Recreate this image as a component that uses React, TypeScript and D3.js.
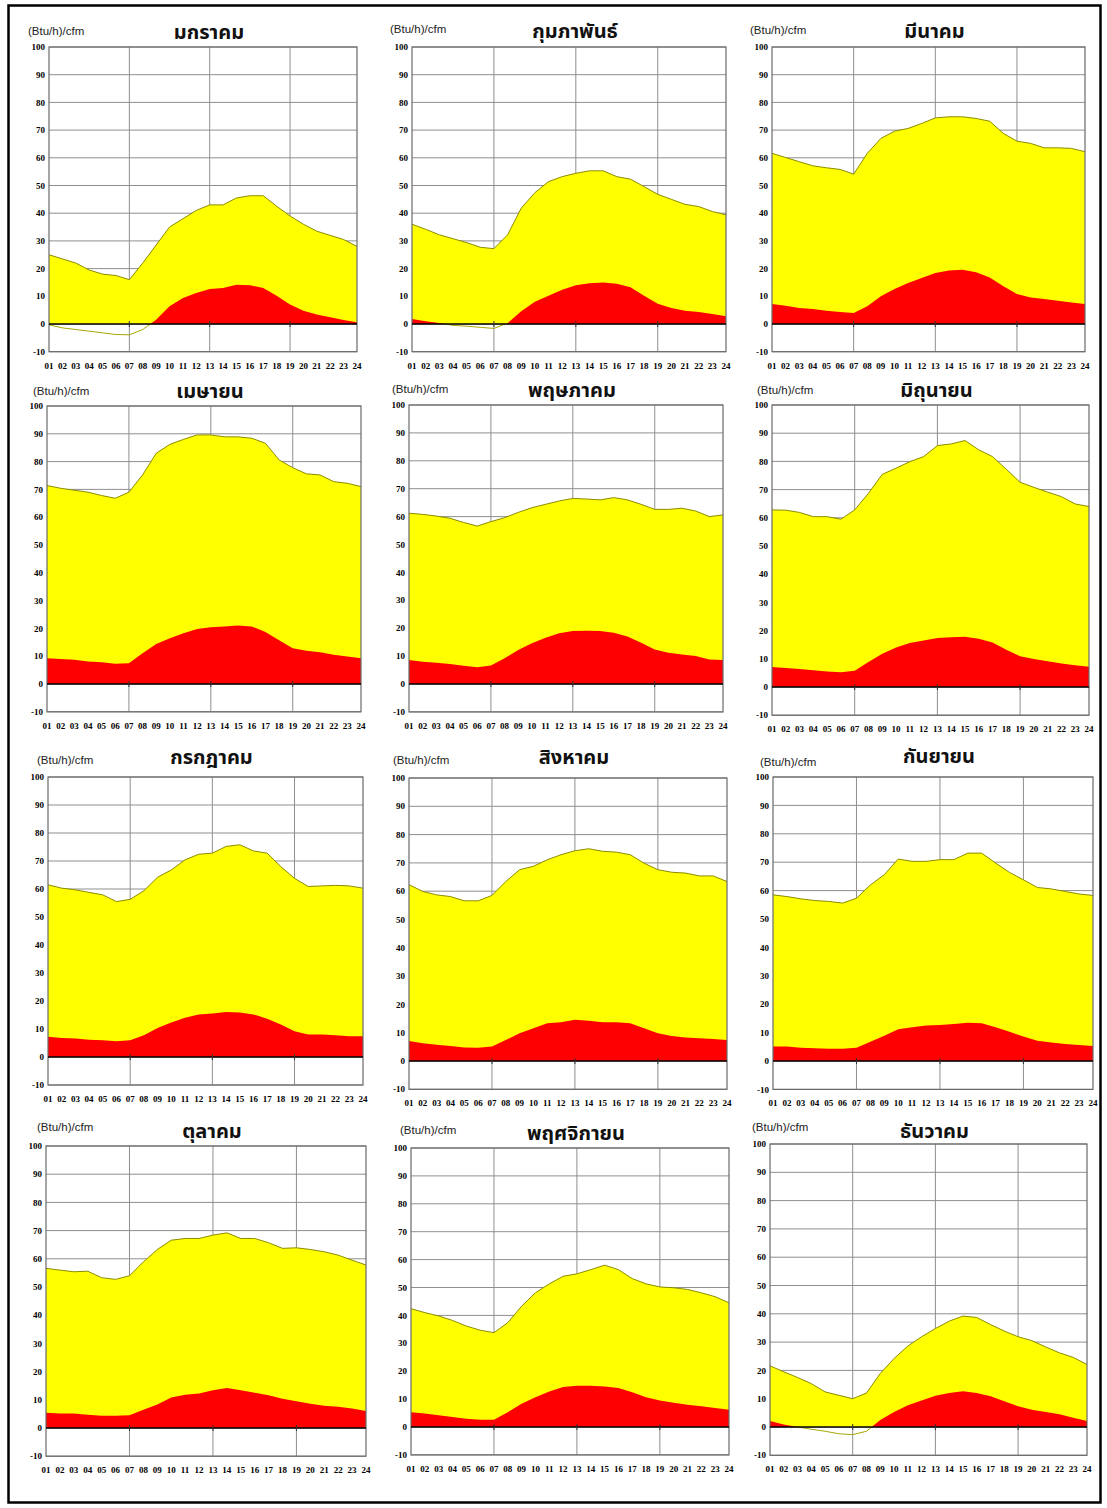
import React from 'react';
import * as d3 from 'd3';

const HOURS = ['01','02','03','04','05','06','07','08','09','10','11','12','13','14','15','16','17','18','19','20','21','22','23','24'];
const Y_TICKS = [-10, 0, 10, 20, 30, 40, 50, 60, 70, 80, 90, 100];
const V_GRID = ['07', '13', '19'];
const UNIT = '(Btu/h)/cfm';
const MONTH_NAMES = ['มกราคม','กุมภาพันธ์','มีนาคม','เมษายน','พฤษภาคม','มิถุนายน','กรกฎาคม','สิงหาคม','กันยายน','ตุลาคม','พฤศจิกายน','ธันวาคม'];

// total load (yellow upper edge) and sensible part (red) per month
const JAN_TOTAL = [25, 23.5, 22, 19.5, 18, 17.5, 16, 22, 28.5, 35, 38, 41, 43, 43, 45.5, 46.3, 46.3, 42.5, 39, 36, 33.5, 32, 30.5, 28];
const JAN_SENS = [-0.3, -1.4, -2, -2.6, -3.2, -3.8, -3.9, -2, 1.5, 6.4, 9.4, 11.2, 12.6, 13, 14.2, 14, 13, 10.2, 7, 4.8, 3.4, 2.4, 1.4, 0.6];
const FEB_TOTAL = [36, 34.2, 32.2, 30.8, 29.4, 27.7, 27.2, 32.2, 41.8, 47.4, 51.4, 53.2, 54.4, 55.3, 55.3, 53.2, 52.3, 49.6, 46.8, 45, 43.2, 42.4, 40.6, 39.4];
const FEB_SENS = [1.8, 1, 0.4, -0.5, -0.8, -1.2, -1.6, 0.3, 4.6, 8, 10.2, 12.4, 14, 14.7, 15, 14.5, 13.3, 10.2, 7.3, 5.8, 4.8, 4.3, 3.6, 2.8];
const MAR_TOTAL = [61.6, 60.1, 58.6, 57.1, 56.4, 55.8, 54.1, 61.6, 67, 69.6, 70.6, 72.4, 74.4, 74.8, 74.8, 74.2, 73.2, 68.8, 66, 65.2, 63.6, 63.6, 63.4, 62.2];
const MAR_SENS = [7.2, 6.6, 5.8, 5.4, 4.8, 4.3, 4, 6.4, 10, 12.6, 14.8, 16.6, 18.4, 19.3, 19.6, 18.7, 16.8, 13.6, 10.8, 9.6, 9, 8.4, 7.8, 7.2];
const APR_TOTAL = [71.4, 70.4, 69.7, 69, 67.8, 66.8, 69, 75.2, 83, 86.2, 88, 89.6, 89.6, 88.9, 88.9, 88.4, 86.6, 80.6, 77.8, 75.6, 75.2, 72.8, 72.2, 71];
const APR_SENS = [9.3, 9, 8.7, 8.1, 7.8, 7.3, 7.5, 11.1, 14.4, 16.5, 18.3, 19.8, 20.4, 20.7, 21, 20.7, 18.7, 15.7, 12.9, 12, 11.4, 10.5, 9.9, 9.3];
const MAY_TOTAL = [61.2, 60.8, 60.2, 59.4, 57.9, 56.6, 58.2, 59.6, 61.5, 63.2, 64.4, 65.6, 66.5, 66.3, 66, 66.8, 66, 64.4, 62.6, 62.6, 63, 62, 60, 60.6];
const MAY_SENS = [8.6, 8, 7.6, 7.2, 6.5, 6, 6.6, 9.2, 12.2, 14.6, 16.6, 18.2, 19, 19.1, 19, 18.4, 17, 14.8, 12.4, 11.2, 10.6, 10, 8.8, 8.6];
const JUN_TOTAL = [62.8, 62.7, 61.9, 60.4, 60.4, 59.5, 62.8, 68.7, 75.4, 77.6, 79.9, 81.7, 85.6, 86.2, 87.4, 84.1, 81.7, 77.2, 72.6, 70.8, 69.1, 67.5, 64.9, 64];
const JUN_SENS = [7.1, 6.7, 6.4, 5.9, 5.5, 5.2, 5.8, 8.9, 11.8, 14, 15.6, 16.5, 17.4, 17.6, 17.8, 17.1, 15.8, 13.2, 10.9, 9.9, 9.1, 8.3, 7.7, 7.2];
const JUL_TOTAL = [61.5, 60.3, 59.7, 58.8, 57.9, 55.5, 56.3, 59.4, 64.2, 66.8, 70.4, 72.4, 72.8, 75.2, 75.8, 73.6, 72.8, 68, 63.8, 60.9, 61.1, 61.3, 61.1, 60.3];
const JUL_SENS = [7.2, 6.8, 6.6, 6.2, 6, 5.6, 6, 7.8, 10.4, 12.3, 14, 15.2, 15.5, 16.1, 15.9, 15.2, 13.7, 11.6, 9.2, 8, 8, 7.8, 7.4, 7.4];
const AUG_TOTAL = [62.3, 59.9, 58.7, 58.1, 56.6, 56.6, 58.5, 63.4, 67.6, 68.8, 71.1, 72.9, 74.3, 75, 74.1, 73.8, 72.9, 69.9, 67.6, 66.7, 66.4, 65.4, 65.4, 63.4];
const AUG_SENS = [7.1, 6.3, 5.7, 5.3, 4.8, 4.7, 5.1, 7.4, 9.8, 11.6, 13.3, 13.7, 14.6, 14.2, 13.7, 13.7, 13.3, 11.6, 9.8, 8.8, 8.3, 8, 7.8, 7.4];
const SEP_TOTAL = [58.5, 57.9, 57.1, 56.5, 56.2, 55.6, 57.3, 62, 65.6, 71.1, 70.3, 70.3, 70.9, 70.9, 73.2, 73.2, 69.7, 66.4, 63.8, 61.1, 60.6, 59.7, 58.8, 58.3];
const SEP_SENS = [5.1, 5.1, 4.7, 4.5, 4.3, 4.3, 4.7, 6.8, 8.9, 11.2, 11.9, 12.5, 12.7, 13, 13.5, 13.3, 11.9, 10.3, 8.6, 7.1, 6.5, 6, 5.6, 5.3];
const OCT_TOTAL = [56.6, 56, 55.4, 55.6, 53.3, 52.7, 54, 58.9, 63.3, 66.6, 67.2, 67.2, 68.4, 69.2, 67.2, 67.2, 65.7, 63.7, 63.9, 63.3, 62.5, 61.3, 59.5, 57.8];
const OCT_SENS = [5.4, 5.1, 5.1, 4.7, 4.3, 4.3, 4.5, 6.5, 8.3, 10.8, 11.8, 12.2, 13.4, 14.2, 13.4, 12.5, 11.6, 10.4, 9.5, 8.6, 7.9, 7.5, 6.9, 6];
const NOV_TOTAL = [42.4, 41, 39.8, 38.2, 36.2, 34.7, 33.8, 37.4, 43.3, 48.1, 51.3, 54, 54.9, 56.4, 58, 56.4, 53.2, 51.3, 50.2, 49.9, 49.3, 48.1, 46.7, 44.5];
const NOV_SENS = [5.3, 4.8, 4.2, 3.6, 3, 2.6, 2.6, 5.3, 8.3, 10.7, 12.7, 14.3, 14.8, 14.8, 14.5, 14, 12.5, 10.7, 9.5, 8.7, 8, 7.4, 6.8, 6.2];
const DEC_TOTAL = [21.6, 19.5, 17.5, 15.3, 12.4, 11.2, 10, 12, 18.9, 24.2, 28.6, 31.9, 34.8, 37.4, 39.2, 38.7, 36.2, 33.9, 31.9, 30.5, 28.3, 26.2, 24.6, 22.1];
const DEC_SENS = [2.1, 0.9, 0, -0.8, -1.5, -2.4, -2.7, -1.5, 2.5, 5.3, 7.7, 9.4, 11, 12, 12.6, 12, 10.9, 9.1, 7.3, 6.1, 5.3, 4.5, 3.3, 2.1];

const TOTALS = [JAN_TOTAL, FEB_TOTAL, MAR_TOTAL, APR_TOTAL, MAY_TOTAL, JUN_TOTAL, JUL_TOTAL, AUG_TOTAL, SEP_TOTAL, OCT_TOTAL, NOV_TOTAL, DEC_TOTAL];
const SENSIBLES = [JAN_SENS, FEB_SENS, MAR_SENS, APR_SENS, MAY_SENS, JUN_SENS, JUL_SENS, AUG_SENS, SEP_SENS, OCT_SENS, NOV_SENS, DEC_SENS];

// panel layout (pixels)
const LAYOUT = [
  { left: 49, right: 357, top: 47, zero: 324, unitX: 28, unitY: 31, titleY: 32 },
  { left: 412, right: 726, top: 47, zero: 324, unitX: 390, unitY: 29, titleY: 31 },
  { left: 772, right: 1085, top: 47, zero: 324, unitX: 750, unitY: 30, titleY: 31 },
  { left: 47, right: 361, top: 406, zero: 684, unitX: 33, unitY: 391, titleY: 391 },
  { left: 409, right: 723, top: 405, zero: 684, unitX: 392, unitY: 389, titleY: 390 },
  { left: 772, right: 1089, top: 405, zero: 687, unitX: 757, unitY: 390, titleY: 390 },
  { left: 48, right: 363, top: 777, zero: 1057, unitX: 37, unitY: 760, titleY: 757 },
  { left: 409, right: 727, top: 778, zero: 1061, unitX: 393, unitY: 760, titleY: 757 },
  { left: 773, right: 1093, top: 777, zero: 1061, unitX: 760, unitY: 762, titleY: 756 },
  { left: 46, right: 366, top: 1146, zero: 1428, unitX: 37, unitY: 1127, titleY: 1131 },
  { left: 411, right: 729, top: 1148, zero: 1427, unitX: 400, unitY: 1130, titleY: 1133 },
  { left: 770, right: 1087, top: 1144, zero: 1427, unitX: 752, unitY: 1127, titleY: 1131 },
];

const TICK_FONT = "'Liberation Serif', 'Times New Roman', serif";
const SANS = "'Liberation Sans', Arial, sans-serif";
const THAI = "'Noto Sans Thai', 'Noto Sans', Tahoma, 'DejaVu Sans', sans-serif";

function Panel({ idx }: { idx: number }) {
  const L = LAYOUT[idx];
  const total = TOTALS[idx];
  const sens = SENSIBLES[idx];
  const bottom = L.zero + (L.zero - L.top) / 10;
  const x = d3.scalePoint<string>().domain(HOURS).range([L.left, L.right]);
  const y = d3.scaleLinear().domain([-10, 100]).range([bottom, L.top]);
  const px = (_: number, i: number) => x(HOURS[i]) as number;

  const yellowArea = d3.area<number>().x(px).y0(y(0)).y1((d) => y(d))(total) || '';
  const redArea = d3.area<number>().x(px).y0(y(0)).y1((d) => y(d))(sens) || '';
  const totalLine = d3.line<number>().x(px).y((d) => y(d))(total) || '';
  const sensLine = d3.line<number>().x(px).y((d) => y(d))(sens) || '';
  const clipUp = `up${idx}`;
  const clipDown = `down${idx}`;
  const cx = (L.left + L.right) / 2 + 6;

  return (
    <g>
      <defs>
        <clipPath id={clipUp}>
          <rect x={L.left} y={L.top} width={L.right - L.left} height={y(0) - L.top} />
        </clipPath>
        <clipPath id={clipDown}>
          <rect x={L.left} y={y(0)} width={L.right - L.left} height={bottom - y(0) + 1} />
        </clipPath>
      </defs>
      {Y_TICKS.map((t) => (
        <line key={'h' + t} x1={L.left} x2={L.right} y1={y(t)} y2={y(t)} stroke="#8f8f8f" strokeWidth={1} />
      ))}
      {V_GRID.map((h) => (
        <line key={'v' + h} x1={x(h)} x2={x(h)} y1={L.top} y2={bottom} stroke="#8f8f8f" strokeWidth={1} />
      ))}
      <path d={yellowArea} fill="#ffff00" clipPath={`url(#${clipUp})`} />
      <path d={redArea} fill="#ff0000" clipPath={`url(#${clipUp})`} />
      <path d={totalLine} fill="none" stroke="#8c8c00" strokeWidth={1} />
      <path d={sensLine} fill="none" stroke="#a8a800" strokeWidth={1} clipPath={`url(#${clipDown})`} />
      <rect x={L.left} y={L.top} width={L.right - L.left} height={bottom - L.top} fill="none" stroke="#6a6a6a" strokeWidth={1.2} />
      <line x1={L.left} x2={L.right} y1={y(0)} y2={y(0)} stroke="#000" strokeWidth={1.5} />
      {V_GRID.map((h) => (
        <line key={'t' + h} x1={x(h)} x2={x(h)} y1={y(0) - 3} y2={y(0) + 3} stroke="#333" strokeWidth={1} />
      ))}
      {Y_TICKS.map((t) => (
        <text key={'yl' + t} x={L.left - 4} y={y(t)} dy="0.35em" textAnchor="end" fontFamily={TICK_FONT} fontWeight="bold" fontSize={9} fill="#000">
          {t}
        </text>
      ))}
      {HOURS.map((h) => (
        <text key={'xl' + h} x={x(h)} y={bottom + 17} textAnchor="middle" fontFamily={TICK_FONT} fontWeight="bold" fontSize={9} fill="#000">
          {h}
        </text>
      ))}
      <text x={L.unitX} y={L.unitY} dy="0.35em" fontFamily={SANS} fontSize={11.5} fill="#222">
        {UNIT}
      </text>
      <text x={cx} y={L.titleY} dy="0.35em" textAnchor="middle" fontFamily={THAI} fontSize={20} fontWeight="bold" fill="#111">
        {MONTH_NAMES[idx]}
      </text>
    </g>
  );
}

export default function App() {
  return (
    <div style={{ position: 'absolute', left: 0, top: 0 }}>
      <svg width={1107} height={1508} style={{ display: 'block', background: '#fff' }}>
        <rect x={0} y={0} width={1107} height={1508} fill="#fff" />
        <rect x={8.5} y={5.5} width={1092} height={1497} fill="none" stroke="#000" strokeWidth={2.5} />
        {LAYOUT.map((_, i) => (
          <Panel key={i} idx={i} />
        ))}
      </svg>
    </div>
  );
}
